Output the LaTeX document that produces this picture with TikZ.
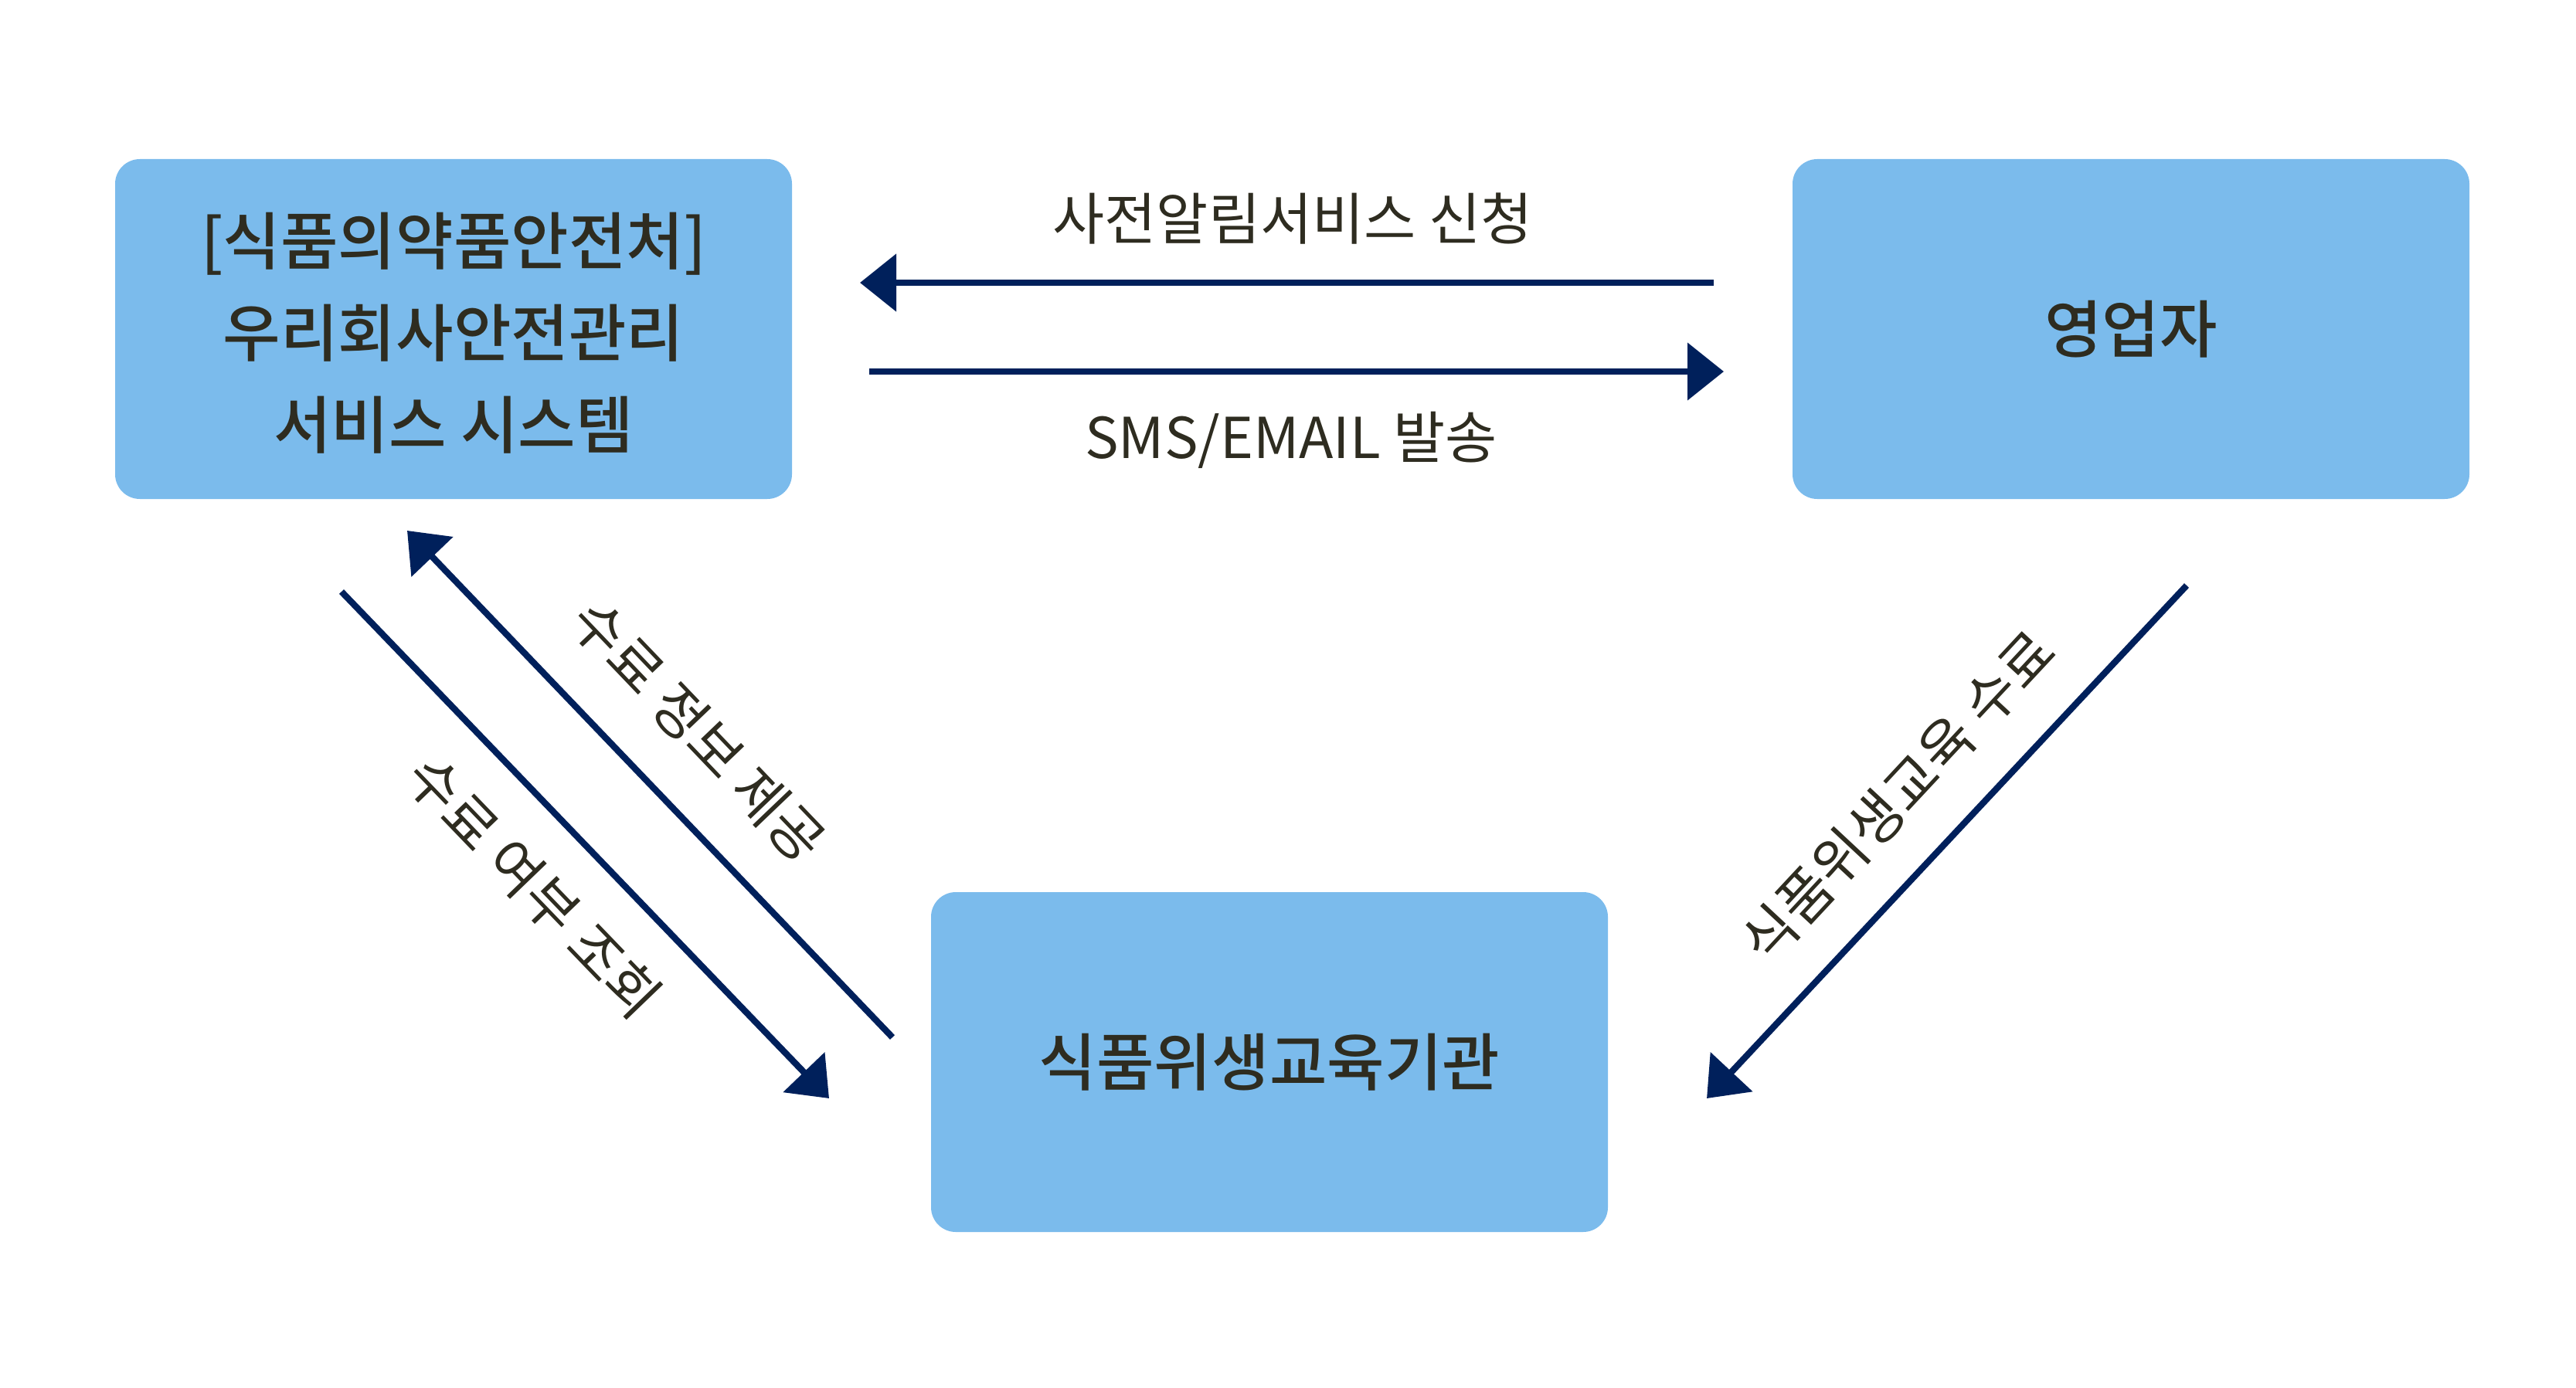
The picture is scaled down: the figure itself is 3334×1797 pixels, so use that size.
\documentclass[tikz,border=0pt]{standalone}
\usepackage{fontspec}
\setmainfont{Noto Sans CJK KR}
\newfontfamily\krmed{Noto Sans CJK KR Medium}
\usetikzlibrary{arrows.meta}
\definecolor{boxfill}{HTML}{7BBBEC}
\definecolor{txt}{HTML}{2E2C20}
\definecolor{navy}{HTML}{00205B}
\begin{document}
\begin{tikzpicture}[x=0.5pt,y=-0.5pt,
  box/.style={draw=none, fill=boxfill, rounded corners=16pt, minimum width=438pt, minimum height=220pt, inner sep=0pt, text=txt, font=\fontsize{40.5}{59.5}\selectfont\krmed, align=center},
  flow/.style={draw=navy, line width=4.15pt, -{Triangle[length=23.5pt,width=36.5pt]}},
  lbl/.style={text=txt, font=\fontsize{36.5}{42}\selectfont, inner sep=0pt}]
\useasboundingbox (0,0) rectangle (3334,1797);
\node[box] (sys) at (587,426) {\raisebox{-6pt}[\height][\depth]{\begin{tabular}{@{}c@{}}[식품의약품안전처]\\우리회사안전관리\\서비스 시스템\end{tabular}}};
\node[box] (biz) at (2758,426) {영업자};
\node[box] (edu) at (1643,1375) {식품위생교육기관};
\coordinate (c1s) at (2218,366);
\coordinate (c1e) at (1113,366);
\coordinate (c2s) at (1125,481);
\coordinate (c2e) at (2231,481);
\coordinate (c3s) at (442,766);
\coordinate (c3e) at (1073,1422);
\coordinate (c4s) at (1155,1343);
\coordinate (c4e) at (527,687);
\coordinate (c5s) at (2830,758);
\coordinate (c5e) at (2209,1422);
\draw[flow] (c1s) -- (c1e);
\draw[flow] (c2s) -- (c2e);
\draw[flow] (c3s) -- (c3e);
\draw[flow] (c4s) -- (c4e);
\draw[flow] (c5s) -- (c5e);
\node[lbl] (l1) at (1673,283) {사전알림서비스 신청};
\node[lbl] (l2) at (1671,570) {SMS/EMAIL 발송};
\node[lbl, rotate=-46.3] (l3) at (904,946) {수료 정보 제공};
\node[lbl, rotate=-46.1] (l4) at (691,1148) {수료 여부 조회};
\node[lbl, rotate=47] (l5) at (2456,1031) {식품위생교육 수료};
\end{tikzpicture}
\end{document}
